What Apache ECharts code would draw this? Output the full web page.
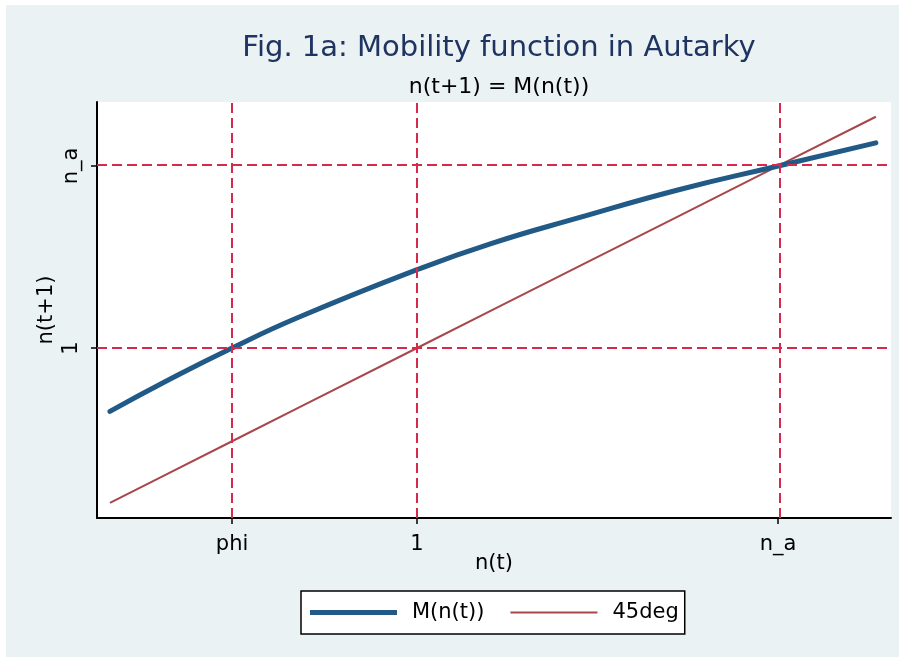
<!DOCTYPE html>
<html>
<head>
<meta charset="utf-8">
<script src="https://cdn.jsdelivr.net/npm/echarts@6/dist/echarts.min.js"></script>
<style>
  html, body { margin: 0; padding: 0; background: #fff; }
  #chart { width: 906px; height: 662px; }
</style>
</head>
<body>
<div id="chart"></div>
<script>
// 曲线数据
const nT = [0.17, 0.32, 0.50, 0.68, 1.00, 1.20, 1.44, 1.71, 1.976, 2.24];
const mOfN = [0.66, 0.82, 1.00, 1.165, 1.42, 1.56, 1.70, 1.85, 1.976, 2.10];
const degLine = [0.17, 0.32, 0.50, 0.68, 1.00, 1.20, 1.44, 1.71, 1.976, 2.24];

// 刻度
const xTickValues = [0.5, 1, 1.976];
const xTickLabels = ['phi', '1', 'n_a'];
const yTickValues = [1, 1.976];
const yTickLabels = ['1', 'n_a'];

const FONT = 'DejaVu Sans';

function pickLabel(values, labels, v) {
    let best = 0;
    for (let i = 1; i < values.length; i++) {
        if (Math.abs(values[i] - v) < Math.abs(values[best] - v)) best = i;
    }
    return labels[best];
}

const chart = echarts.init(document.getElementById('chart'));

const option = {
    backgroundColor: '#fff',
    animation: false,
    graphic: [{
        type: 'rect',
        z: -10,
        silent: true,
        shape: { x: 6, y: 5, width: 893, height: 652 },
        style: { fill: '#EAF2F3' }
    }],
    title: [{
        text: 'Fig. 1a: Mobility function in Autarky',
        left: 494,
        top: 29,
        textAlign: 'center',
        textStyle: { fontFamily: FONT, fontSize: 29, fontWeight: 'normal', color: '#1f3461' }
    }, {
        text: 'n(t+1) = M(n(t))',
        left: 494,
        top: 71,
        textAlign: 'center',
        textStyle: { fontFamily: FONT, fontSize: 22, fontWeight: 'normal', color: '#000' }
    }],
    grid: {
        left: 97,
        right: 15,
        top: 102,
        bottom: 144,
        show: true,
        backgroundColor: '#fff',
        borderWidth: 0
    },
    xAxis: {
        type: 'value',
        min: 0.135,
        max: 2.281,
        name: 'n(t)',
        nameLocation: 'middle',
        nameGap: 35,
        nameMoveOverlap: false,
        nameTextStyle: { fontFamily: FONT, fontSize: 21, color: '#000', verticalAlign: 'top' },
        axisLine: { lineStyle: { color: '#000', width: 2 } },
        axisTick: { show: true, length: 6, customValues: xTickValues, lineStyle: { color: '#000', width: 1.5 } },
        axisLabel: {
            customValues: xTickValues,
            margin: 16,
            fontFamily: FONT, fontSize: 21, color: '#000',
            formatter: v => pickLabel(xTickValues, xTickLabels, v)
        },
        splitLine: { show: false }
    },
    yAxis: {
        type: 'value',
        min: 0.0885,
        max: 2.319,
        name: 'n(t+1)',
        nameLocation: 'middle',
        nameGap: 40,
        nameRotate: 90,
        nameMoveOverlap: false,
        nameTextStyle: { fontFamily: FONT, fontSize: 21, color: '#000' },
        axisLine: { show: true, lineStyle: { color: '#000', width: 2 } },
        axisTick: { show: true, length: 6, customValues: yTickValues, lineStyle: { color: '#000', width: 1.5 } },
        axisLabel: {
            customValues: yTickValues,
            rotate: 90,
            margin: 15,
            fontFamily: FONT, fontSize: 21, color: '#000',
            formatter: v => pickLabel(yTickValues, yTickLabels, v)
        },
        splitLine: { show: false }
    },
    legend: {
        left: 301,
        top: 591,
        padding: [11, 6, 11, 9],
        itemGap: 26,
        itemWidth: 87,
        itemHeight: 5,
        backgroundColor: '#fff',
        borderColor: '#000',
        borderWidth: 1.5,
        borderRadius: 0,
        textStyle: { fontFamily: FONT, fontSize: 21, color: '#000', padding: [0, 0, 0, 10] },
        itemStyle: { borderWidth: 0 },
        data: [
            { name: 'M(n(t))', icon: 'path://M0,0H87V5H0Z' },
            { name: '45deg', icon: 'path://M0,0H87V2H0Z' }
        ]
    },
    series: [{
        name: '45deg',
        type: 'line',
        data: nT.map((x, i) => [x, degLine[i]]),
        showSymbol: false,
        symbol: 'none',
        color: '#a8464a',
        lineStyle: { width: 2, color: '#a8464a' },
        z: 2,
        markLine: {
            silent: true,
            symbol: 'none',
            label: { show: false },
            lineStyle: { color: '#d62a4c', width: 2, type: [10, 5] },
            data: xTickValues.map(v => ({ xAxis: v })).concat(yTickValues.map(v => ({ yAxis: v })))
        }
    }, {
        name: 'M(n(t))',
        type: 'line',
        data: nT.map((x, i) => [x, mOfN[i]]),
        smooth: 0.5,
        showSymbol: false,
        symbol: 'none',
        color: '#215a86',
        lineStyle: { width: 5, color: '#215a86', cap: 'round' },
        z: 3
    }]
};

chart.setOption(option);
</script>
</body>
</html>
